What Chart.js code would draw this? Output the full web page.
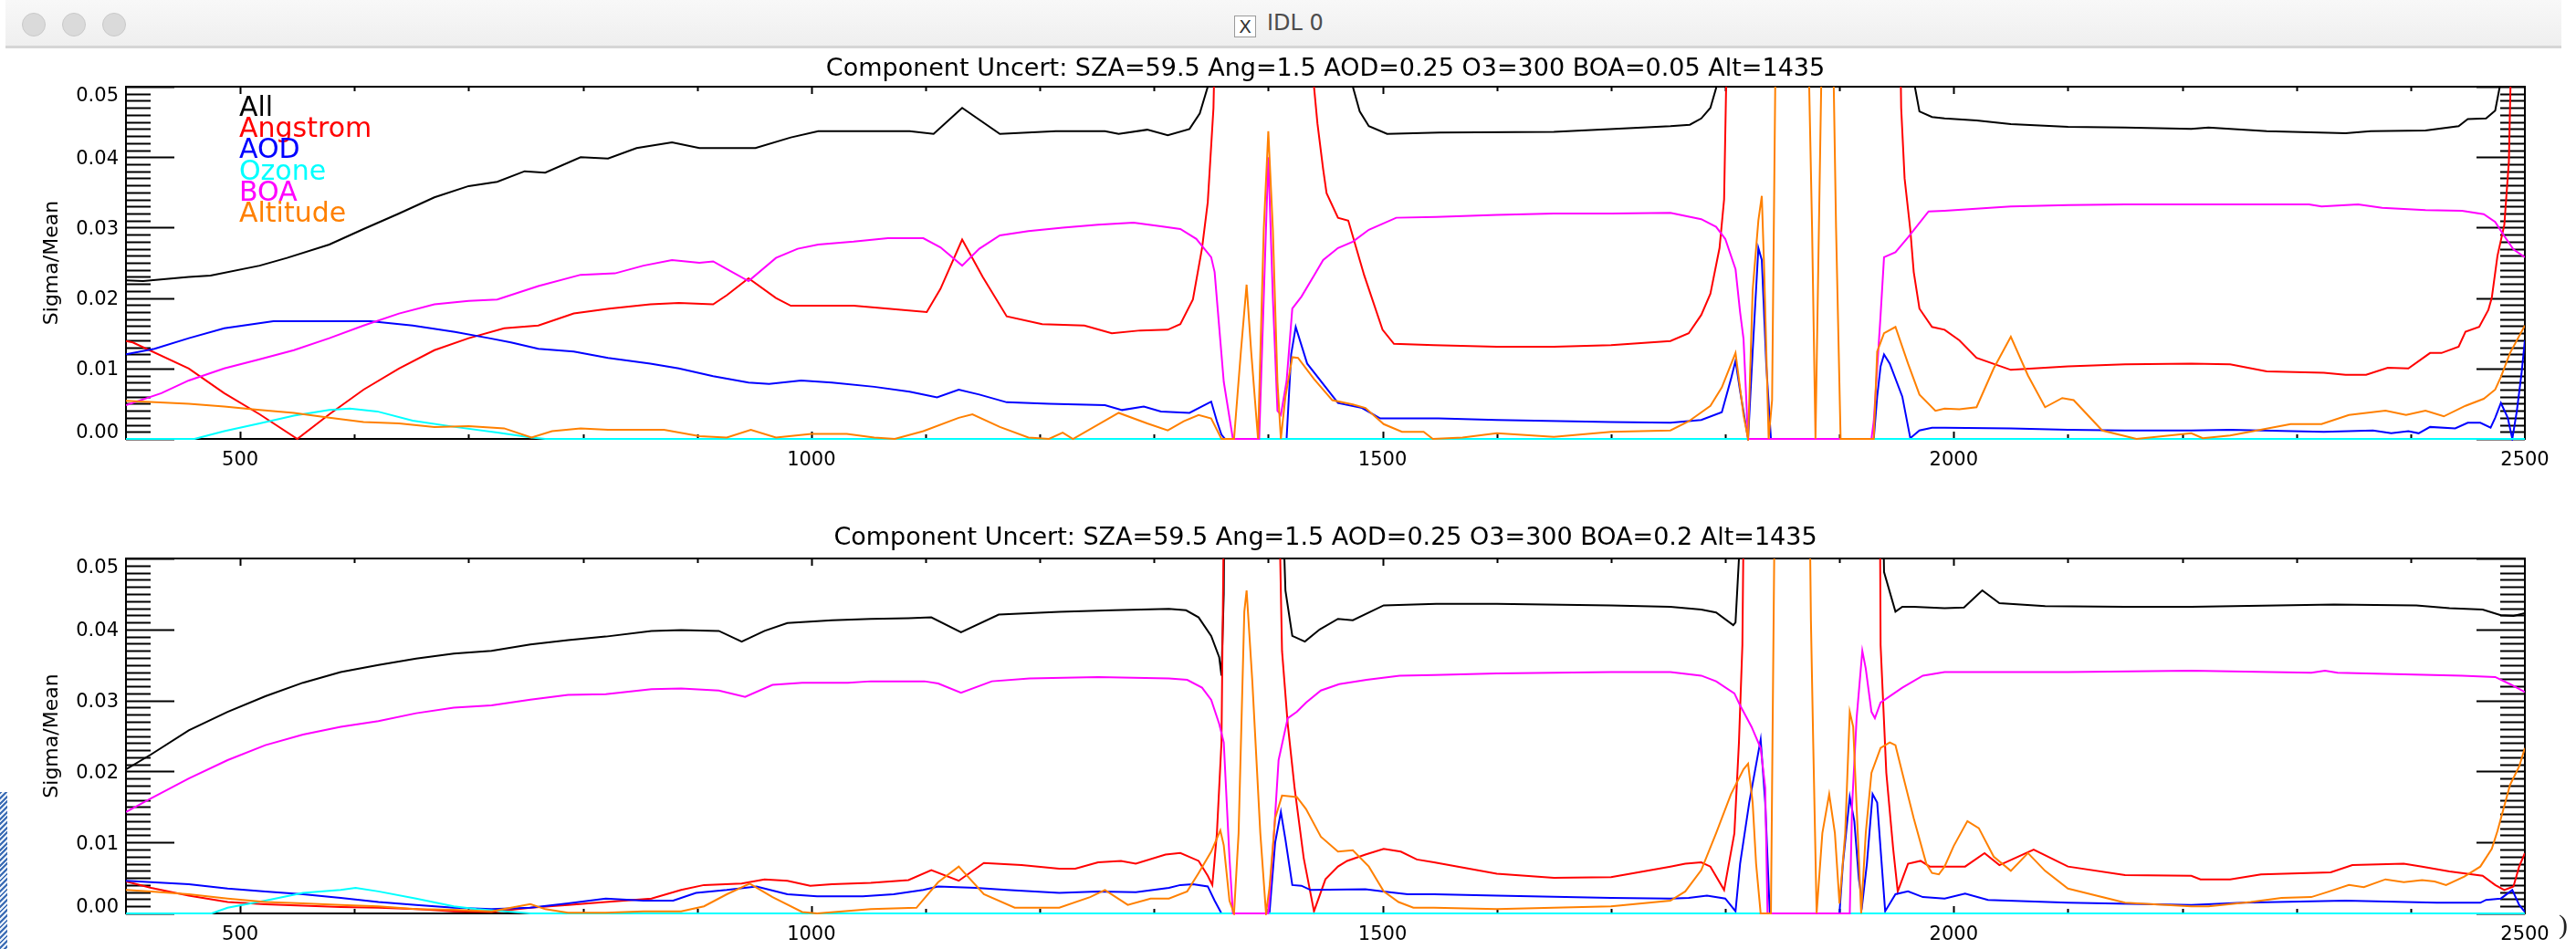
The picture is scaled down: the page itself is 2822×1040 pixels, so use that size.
<!DOCTYPE html>
<html>
<head>
<meta charset="utf-8">
<script src="https://cdn.jsdelivr.net/npm/chart.js@4.4.0/dist/chart.umd.min.js"></script>
<style>
  html, body { margin: 0; padding: 0; background: #fff; width: 2822px; height: 1040px; overflow: hidden; position: relative; font-family: "DejaVu Sans", sans-serif; }
  #bar { position: absolute; left: 6px; top: 0; width: 2800px; height: 50px; background: linear-gradient(#f8f8f8, #efefef); border-bottom: 3px solid #d6d6d6; }
  .dot { position: absolute; top: 14px; width: 24px; height: 24px; border-radius: 50%; background: #dadada; border: 1px solid #c9c9c9; }
  #wtitle { position: absolute; left: 1346px; top: 11px; font-size: 24px; color: #4d4d4d; white-space: nowrap; }
  #wtitle .xi { display: inline-block; width: 22px; height: 22px; border: 1px solid #9a9a9a; background: #fff; font-size: 20px; line-height: 22px; text-align: center; margin-right: 12px; vertical-align: -3px; color: #333; }
  canvas { position: absolute; left: 0; }
  #cTop { top: 52px; }
  #cBot { top: 560px; }
  #paren { position: absolute; left: 2803px; top: 996px; font: 30px "Liberation Serif", serif; color: #222; }
  #stripe { position: absolute; left: 0; top: 868px; width: 8px; height: 172px; background: repeating-linear-gradient(135deg, #3f6fb6 0 2px, #e6eef8 2px 4px); }
</style>
</head>
<body>
<div id="bar">
  <span class="dot" style="left:18px"></span>
  <span class="dot" style="left:62px"></span>
  <span class="dot" style="left:106px"></span>
  <div id="wtitle"><span class="xi">X</span>IDL 0</div>
</div>
<canvas id="cTop" width="2904" height="500"></canvas>
<canvas id="cBot" width="2904" height="480"></canvas>
<div id="paren">)</div>
<div id="stripe"></div>
<script>
const seriesNames = ['All', 'Angstrom', 'AOD', 'Ozone', 'BOA', 'Altitude'];
const seriesColors = ['#000000', '#ff0000', '#0000ff', '#00ffff', '#ff00ff', '#ff8000'];
const xTickLabels = [500, 1000, 1500, 2000, 2500];
const yTickLabels = [0, 0.01, 0.02, 0.03, 0.04, 0.05];
const topTitle = 'Component Uncert: SZA=59.5 Ang=1.5 AOD=0.25 O3=300 BOA=0.05 Alt=1435';
const botTitle = 'Component Uncert: SZA=59.5 Ang=1.5 AOD=0.25 O3=300 BOA=0.2 Alt=1435';
// values above 0.05 run off the top of the plot (clipped, as in the original)

// ---- upper panel (BOA=0.05): [wavelength, sigma/mean]
const topAll = [[400,0.0225],[415,0.0224],[455,0.0230],[474,0.0232],[517,0.0246],[541,0.0257],[578,0.0276],[608,0.0298],[639,0.0320],[670,0.0343],[700,0.0359],[725,0.0365],[749,0.0380],[767,0.0378],[798,0.0400],[822,0.0398],[847,0.0413],[878,0.0421],[902,0.0413],[951,0.0413],[982,0.0428],[1006,0.0437],[1086,0.0437],[1107,0.0433],[1132,0.0470],[1165,0.0433],[1214,0.0437],[1257,0.0437],[1269,0.0433],[1294,0.0439],[1312,0.0431],[1331,0.0440],[1340,0.0462],[1347,0.0500],[1352,0.0700],[1468,0.0700],[1474,0.0500],[1480,0.0465],[1488,0.0444],[1504,0.0433],[1550,0.0435],[1650,0.0436],[1752,0.0444],[1769,0.0446],[1779,0.0455],[1787,0.0470],[1792,0.0498],[1796,0.0700],[1962,0.0700],[1966,0.0500],[1970,0.0465],[1981,0.0457],[1992,0.0455],[2020,0.0452],[2050,0.0447],[2100,0.0443],[2150,0.0442],[2208,0.0440],[2223,0.0442],[2274,0.0437],[2343,0.0434],[2365,0.0437],[2413,0.0438],[2442,0.0444],[2450,0.0454],[2466,0.0455],[2474,0.0466],[2478,0.0500],[2482,0.0700],[2500,0.0700]];
const topAngstrom = [[400,0.0139],[406,0.0137],[455,0.0100],[486,0.0065],[517,0.0035],[550,0.0000],[578,0.0035],[608,0.0070],[639,0.0100],[670,0.0126],[700,0.0143],[731,0.0157],[761,0.0161],[792,0.0178],[823,0.0185],[859,0.0191],[884,0.0193],[914,0.0191],[926,0.0204],[945,0.0228],[969,0.0200],[982,0.0189],[1037,0.0189],[1067,0.0185],[1101,0.0180],[1113,0.0213],[1132,0.0283],[1150,0.0230],[1171,0.0174],[1202,0.0163],[1239,0.0161],[1263,0.0150],[1288,0.0154],[1312,0.0155],[1323,0.0163],[1334,0.0198],[1342,0.0271],[1347,0.0336],[1352,0.0470],[1355,0.0700],[1436,0.0700],[1440,0.0500],[1443,0.0448],[1448,0.0383],[1451,0.0349],[1461,0.0314],[1470,0.0310],[1484,0.0232],[1500,0.0155],[1510,0.0135],[1545,0.0133],[1600,0.0131],[1650,0.0131],[1700,0.0133],[1752,0.0139],[1768,0.0150],[1779,0.0176],[1787,0.0206],[1795,0.0271],[1799,0.0340],[1803,0.0700],[1952,0.0700],[1954,0.0470],[1957,0.0370],[1962,0.0297],[1965,0.0237],[1970,0.0185],[1981,0.0159],[1992,0.0155],[2005,0.0140],[2020,0.0115],[2050,0.0098],[2100,0.0103],[2150,0.0106],[2208,0.0107],[2242,0.0106],[2274,0.0096],[2324,0.0094],[2343,0.0091],[2361,0.0091],[2380,0.0101],[2398,0.0100],[2417,0.0122],[2427,0.0122],[2442,0.0131],[2448,0.0152],[2460,0.0159],[2468,0.0183],[2471,0.0200],[2476,0.0260],[2482,0.0304],[2486,0.0394],[2490,0.0700],[2500,0.0700]];
const topAod = [[400,0.0120],[425,0.0128],[455,0.0143],[486,0.0157],[529,0.0167],[578,0.0167],[614,0.0167],[651,0.0161],[688,0.0152],[718,0.0143],[737,0.0137],[761,0.0128],[792,0.0124],[822,0.0115],[859,0.0107],[884,0.0100],[914,0.0089],[945,0.0080],[963,0.0078],[991,0.0083],[1018,0.0080],[1055,0.0074],[1086,0.0067],[1110,0.0059],[1129,0.0070],[1147,0.0063],[1171,0.0052],[1208,0.0050],[1257,0.0048],[1272,0.0041],[1291,0.0046],[1306,0.0039],[1331,0.0037],[1350,0.0053],[1355,0.0025],[1359,0.0006],[1362,0],[1416,0],[1420,0.0120],[1424,0.0159],[1434,0.0107],[1461,0.0051],[1482,0.0044],[1498,0.0029],[1549,0.0029],[1600,0.0027],[1700,0.0024],[1752,0.0023],[1779,0.0027],[1797,0.0038],[1805,0.0085],[1809,0.0111],[1813,0.0068],[1820,0],[1824,0.0124],[1829,0.0271],[1832,0.0254],[1836,0.0103],[1840,0],[1930,0],[1933,0.0060],[1936,0.0103],[1939,0.0120],[1944,0.0107],[1955,0.0060],[1962,0.0001],[1970,0.0012],[1981,0.0016],[1992,0.0016],[2050,0.0015],[2100,0.0013],[2150,0.0012],[2208,0.0012],[2242,0.0013],[2324,0.0010],[2367,0.0012],[2383,0.0008],[2398,0.0011],[2407,0.0008],[2417,0.0017],[2439,0.0015],[2450,0.0023],[2461,0.0023],[2470,0.0016],[2474,0.0030],[2479,0.0051],[2485,0.0030],[2489,0],[2493,0.0040],[2497,0.0092],[2500,0.0140]];
const topOzone = [[400,0],[460,0],[486,0.0011],[517,0.0022],[547,0.0033],[578,0.0041],[596,0.0043],[620,0.0039],[651,0.0026],[688,0.0017],[725,0.0009],[755,0.0002],[767,0],[2500,0]];
const topBoa = [[400,0.0048],[431,0.0065],[455,0.0083],[486,0.0100],[517,0.0113],[547,0.0126],[578,0.0143],[608,0.0161],[639,0.0178],[670,0.0191],[700,0.0196],[725,0.0198],[761,0.0217],[798,0.0233],[828,0.0235],[853,0.0246],[878,0.0254],[902,0.0250],[914,0.0252],[926,0.0241],[945,0.0224],[969,0.0257],[988,0.0270],[1006,0.0276],[1037,0.0280],[1067,0.0285],[1098,0.0285],[1113,0.0272],[1132,0.0246],[1147,0.0270],[1165,0.0289],[1190,0.0295],[1220,0.0300],[1251,0.0304],[1282,0.0307],[1306,0.0302],[1323,0.0298],[1337,0.0284],[1350,0.0258],[1353,0.0237],[1361,0.0081],[1369,0],[1392,0],[1396,0.0200],[1400,0.0400],[1404,0.0200],[1408,0.0040],[1411,0.0034],[1416,0.0082],[1421,0.0185],[1429,0.0202],[1440,0.0232],[1448,0.0254],[1461,0.0271],[1474,0.0280],[1488,0.0297],[1512,0.0314],[1547,0.0315],[1600,0.0318],[1650,0.0320],[1700,0.0320],[1752,0.0321],[1779,0.0312],[1792,0.0301],[1800,0.0284],[1809,0.0241],[1813,0.0180],[1816,0.0142],[1820,0],[1928,0],[1930,0.0025],[1936,0.0176],[1939,0.0258],[1949,0.0265],[1960,0.0286],[1978,0.0323],[1992,0.0324],[2050,0.0330],[2100,0.0332],[2150,0.0333],[2208,0.0333],[2311,0.0333],[2322,0.0330],[2354,0.0333],[2375,0.0328],[2413,0.0325],[2445,0.0324],[2464,0.0319],[2474,0.0308],[2482,0.0288],[2490,0.0269],[2500,0.0258]];
const topAltitude = [[400,0.0054],[455,0.0050],[486,0.0046],[517,0.0041],[547,0.0037],[578,0.0030],[608,0.0024],[639,0.0022],[670,0.0017],[700,0.0018],[731,0.0015],[755,0.0002],[773,0.0011],[798,0.0015],[822,0.0013],[871,0.0013],[902,0.0004],[926,0.0002],[947,0.0013],[969,0.0002],[1000,0.0007],[1031,0.0007],[1055,0.0002],[1073,0],[1098,0.0011],[1129,0.0030],[1141,0.0035],[1165,0.0017],[1190,0.0002],[1208,0],[1220,0.0009],[1229,0],[1269,0.0037],[1294,0.0022],[1312,0.0012],[1326,0.0025],[1339,0.0034],[1350,0.0029],[1359,0],[1370,0],[1376,0.0124],[1381,0.0219],[1385,0.0124],[1391,0],[1396,0.0297],[1400,0.0437],[1404,0.0297],[1408,0.0081],[1411,0],[1415,0.0060],[1421,0.0116],[1426,0.0115],[1440,0.0085],[1456,0.0055],[1474,0.0049],[1485,0.0044],[1501,0.0021],[1517,0.0010],[1536,0.0010],[1544,0],[1570,0.0002],[1600,0.0008],[1650,0.0003],[1700,0.0010],[1752,0.0012],[1768,0.0025],[1787,0.0047],[1797,0.0073],[1809,0.0122],[1816,0.0034],[1820,0],[1824,0.0211],[1829,0.0310],[1832,0.0345],[1834,0.0245],[1838,0],[1841,0.0055],[1845,0.0700],[1871,0.0700],[1876,0.0300],[1879,0],[1882,0.0300],[1886,0.0700],[1893,0.0700],[1897,0.0300],[1901,0],[1930,0],[1933,0.0124],[1939,0.0150],[1949,0.0159],[1960,0.0107],[1970,0.0063],[1984,0.0040],[1992,0.0043],[2005,0.0042],[2020,0.0045],[2035,0.0100],[2050,0.0145],[2065,0.0090],[2080,0.0045],[2095,0.0058],[2105,0.0055],[2130,0.0012],[2160,0],[2208,0.0008],[2218,0.0001],[2242,0.0005],[2295,0.0021],[2322,0.0021],[2346,0.0034],[2378,0.0040],[2396,0.0034],[2413,0.0040],[2429,0.0032],[2448,0.0047],[2464,0.0057],[2474,0.0070],[2479,0.0088],[2487,0.0122],[2500,0.0161]];

// ---- lower panel (BOA=0.2)
const botAll = [[400,0.0203],[422,0.0224],[455,0.0258],[489,0.0284],[522,0.0306],[555,0.0325],[588,0.0340],[621,0.0350],[654,0.0359],[687,0.0366],[720,0.0370],[754,0.0379],[787,0.0385],[820,0.0390],[860,0.0398],[886,0.0399],[919,0.0398],[939,0.0383],[959,0.0398],[979,0.0409],[1018,0.0413],[1052,0.0415],[1085,0.0416],[1105,0.0417],[1131,0.0396],[1164,0.0421],[1217,0.0425],[1264,0.0427],[1313,0.0429],[1328,0.0427],[1339,0.0417],[1350,0.0391],[1357,0.0361],[1359,0.0335],[1361,0.0450],[1362,0.0700],[1410,0.0700],[1415,0.0455],[1421,0.0391],[1432,0.0383],[1445,0.0400],[1461,0.0415],[1474,0.0413],[1501,0.0434],[1547,0.0436],[1600,0.0436],[1700,0.0434],[1752,0.0432],[1779,0.0428],[1792,0.0424],[1807,0.0406],[1809,0.0410],[1812,0.0500],[1814,0.0700],[1937,0.0700],[1939,0.0481],[1949,0.0425],[1955,0.0432],[1965,0.0432],[1992,0.0430],[2009,0.0431],[2025,0.0455],[2040,0.0437],[2080,0.0433],[2150,0.0432],[2208,0.0432],[2333,0.0435],[2405,0.0434],[2434,0.0430],[2463,0.0428],[2479,0.0420],[2490,0.0419],[2500,0.0423]];
const botAngstrom = [[400,0.0045],[422,0.0036],[455,0.0025],[489,0.0016],[522,0.0013],[555,0.0011],[588,0.0009],[621,0.0008],[654,0.0006],[687,0.0003],[720,0.0002],[754,0.0008],[787,0.0012],[820,0.0016],[860,0.0021],[886,0.0033],[906,0.0040],[939,0.0042],[959,0.0048],[979,0.0046],[999,0.0039],[1018,0.0041],[1052,0.0043],[1085,0.0047],[1105,0.0061],[1129,0.0046],[1151,0.0071],[1184,0.0068],[1217,0.0063],[1231,0.0063],[1251,0.0072],[1271,0.0074],[1284,0.0070],[1310,0.0083],[1323,0.0085],[1339,0.0074],[1347,0.0053],[1351,0.0040],[1355,0.0113],[1359,0.0241],[1362,0.0700],[1408,0.0700],[1412,0.0370],[1417,0.0267],[1423,0.0177],[1431,0.0078],[1440,0.0003],[1450,0.0048],[1461,0.0066],[1469,0.0074],[1485,0.0083],[1501,0.0091],[1516,0.0087],[1530,0.0076],[1545,0.0072],[1600,0.0056],[1650,0.0050],[1700,0.0051],[1752,0.0066],[1765,0.0070],[1779,0.0072],[1787,0.0066],[1799,0.0033],[1808,0.0113],[1812,0.0241],[1815,0.0378],[1817,0.0700],[1935,0.0700],[1936,0.0378],[1941,0.0198],[1947,0.0091],[1951,0.0031],[1960,0.0070],[1971,0.0074],[1979,0.0066],[1992,0.0066],[2010,0.0066],[2027,0.0085],[2040,0.0068],[2070,0.0090],[2100,0.0066],[2150,0.0054],[2208,0.0053],[2216,0.0048],[2242,0.0048],[2269,0.0055],[2330,0.0058],[2349,0.0068],[2394,0.0070],[2410,0.0066],[2434,0.0059],[2463,0.0053],[2474,0.0040],[2482,0.0033],[2490,0.0038],[2495,0.0066],[2500,0.0085]];
const botAod = [[400,0.0046],[422,0.0044],[455,0.0041],[489,0.0035],[522,0.0031],[555,0.0027],[588,0.0022],[621,0.0016],[654,0.0012],[687,0.0008],[720,0.0006],[754,0.0008],[787,0.0014],[820,0.0021],[853,0.0018],[879,0.0018],[899,0.0029],[926,0.0033],[952,0.0038],[979,0.0027],[1005,0.0024],[1045,0.0024],[1072,0.0027],[1098,0.0033],[1111,0.0038],[1144,0.0036],[1171,0.0033],[1217,0.0029],[1251,0.0031],[1284,0.0030],[1313,0.0036],[1323,0.0040],[1334,0.0041],[1347,0.0038],[1353,0.0018],[1359,0],[1401,0],[1406,0.0100],[1411,0.0143],[1415,0.0104],[1421,0.0040],[1429,0.0039],[1437,0.0033],[1485,0.0034],[1501,0.0031],[1522,0.0027],[1545,0.0027],[1600,0.0025],[1700,0.0022],[1752,0.0021],[1768,0.0022],[1784,0.0025],[1800,0.0021],[1809,0.0003],[1813,0.0070],[1821,0.0156],[1831,0.0245],[1835,0.0156],[1839,0],[1900,0],[1903,0.0070],[1909,0.0164],[1913,0.0130],[1917,0.0048],[1920,0.0014],[1924,0.0070],[1929,0.0168],[1933,0.0156],[1940,0.0003],[1949,0.0027],[1960,0.0031],[1973,0.0023],[1992,0.0021],[2010,0.0028],[2030,0.0019],[2100,0.0015],[2208,0.0012],[2253,0.0015],[2343,0.0018],[2423,0.0015],[2461,0.0015],[2466,0.0019],[2479,0.0021],[2489,0.0033],[2495,0.0012],[2500,0.0002]];
const botOzone = [[400,0],[475,0],[489,0.0008],[522,0.0018],[555,0.0029],[588,0.0033],[601,0.0036],[621,0.0031],[654,0.0021],[687,0.0010],[707,0.0006],[754,0],[2500,0]];
const botBoa = [[400,0.0143],[422,0.0162],[455,0.0190],[489,0.0216],[522,0.0237],[555,0.0252],[588,0.0263],[621,0.0271],[654,0.0282],[687,0.0290],[720,0.0293],[754,0.0301],[787,0.0308],[820,0.0309],[860,0.0316],[886,0.0317],[919,0.0314],[942,0.0305],[966,0.0322],[992,0.0325],[1032,0.0325],[1052,0.0327],[1099,0.0327],[1111,0.0324],[1131,0.0311],[1158,0.0327],[1191,0.0331],[1251,0.0333],[1313,0.0331],[1329,0.0329],[1342,0.0318],[1350,0.0301],[1357,0.0267],[1361,0.0241],[1366,0.0078],[1369,0],[1400,0],[1405,0.0113],[1409,0.0216],[1417,0.0275],[1425,0.0284],[1433,0.0297],[1446,0.0314],[1462,0.0323],[1486,0.0329],[1515,0.0335],[1545,0.0336],[1600,0.0338],[1700,0.0340],[1752,0.0340],[1779,0.0335],[1792,0.0327],[1808,0.0310],[1813,0.0293],[1823,0.0263],[1831,0.0233],[1835,0.0177],[1837,0],[1909,0],[1911,0.0150],[1915,0.0275],[1920,0.0370],[1923,0.0345],[1928,0.0284],[1931,0.0275],[1936,0.0297],[1955,0.0318],[1973,0.0335],[1992,0.0340],[2100,0.0340],[2208,0.0342],[2313,0.0339],[2325,0.0342],[2336,0.0339],[2445,0.0335],[2474,0.0333],[2487,0.0323],[2500,0.0312]];
const botAltitude = [[400,0.0033],[422,0.0031],[455,0.0027],[489,0.0021],[522,0.0016],[555,0.0014],[588,0.0012],[621,0.0010],[654,0.0006],[687,0.0005],[720,0.0003],[754,0.0013],[767,0.0006],[787,0.0001],[820,0.0001],[853,0.0003],[886,0.0003],[906,0.0010],[926,0.0027],[946,0.0042],[966,0.0023],[992,0.0002],[1005,0],[1052,0.0006],[1092,0.0008],[1111,0.0044],[1129,0.0066],[1151,0.0027],[1178,0.0008],[1217,0.0008],[1244,0.0023],[1257,0.0033],[1277,0.0012],[1297,0.0021],[1313,0.0021],[1329,0.0031],[1339,0.0057],[1350,0.0087],[1358,0.0117],[1361,0.0096],[1366,0.0018],[1370,0],[1374,0.0113],[1379,0.0425],[1381,0.0455],[1386,0.0327],[1393,0.0113],[1398,0],[1401,0.0036],[1406,0.0134],[1412,0.0166],[1425,0.0164],[1433,0.0147],[1446,0.0108],[1461,0.0087],[1474,0.0089],[1488,0.0066],[1501,0.0031],[1514,0.0016],[1527,0.0008],[1545,0.0008],[1600,0.0006],[1650,0.0008],[1700,0.0010],[1752,0.0018],[1765,0.0031],[1779,0.0061],[1792,0.0113],[1805,0.0168],[1816,0.0203],[1820,0.0211],[1824,0.0156],[1827,0.0070],[1831,0],[1840,0],[1841,0.0177],[1844,0.0700],[1873,0.0700],[1875,0.0413],[1877,0.0241],[1880,0],[1885,0.0113],[1891,0.0168],[1896,0.0113],[1900,0.0014],[1905,0.0113],[1909,0.0284],[1912,0.0263],[1916,0.0113],[1919,0],[1923,0.0113],[1928,0.0198],[1936,0.0233],[1944,0.0241],[1949,0.0237],[1955,0.0198],[1965,0.0134],[1976,0.0070],[1981,0.0057],[1987,0.0055],[1992,0.0066],[2000,0.0095],[2012,0.0130],[2022,0.0120],[2035,0.0080],[2050,0.0060],[2065,0.0085],[2080,0.0060],[2100,0.0035],[2150,0.0015],[2208,0.0010],[2223,0.0010],[2260,0.0016],[2287,0.0022],[2313,0.0023],[2327,0.0030],[2346,0.0040],[2359,0.0037],[2378,0.0048],[2394,0.0044],[2410,0.0047],[2421,0.0045],[2431,0.0040],[2447,0.0052],[2461,0.0066],[2471,0.0091],[2476,0.0116],[2487,0.0181],[2495,0.0207],[2500,0.0233]];

const FONT = '"DejaVu Sans", sans-serif';

// IDL-style box with inward ticks on all four sides
const idlAxes = {
  id: 'idlAxes',
  beforeDatasetsDraw(chart) {
    const {ctx, chartArea: a, scales: {x, y}} = chart;
    ctx.save();
    ctx.strokeStyle = '#000';
    ctx.lineWidth = 2;
    ctx.beginPath();
    for (let i = 0; i <= 50; i++) {
      const py = Math.round(y.getPixelForValue(i / 1000)) + 0.5;
      const len = i % 10 === 0 ? 53 : 27;
      ctx.moveTo(a.left, py); ctx.lineTo(a.left + len, py);
      ctx.moveTo(a.right, py); ctx.lineTo(a.right - len, py);
    }
    for (let v = 500; v < 2500; v += 100) {
      const px = Math.round(x.getPixelForValue(v)) + 0.5;
      const len = v % 500 === 0 ? 8 : 5;
      ctx.moveTo(px, a.bottom); ctx.lineTo(px, a.bottom - len);
      ctx.moveTo(px, a.top); ctx.lineTo(px, a.top + len);
    }
    ctx.stroke();
    ctx.strokeRect(a.left, a.top, a.right - a.left, a.bottom - a.top);
    ctx.restore();
  }
};

// the xyouts-style coloured legend in the upper panel
const textLegend = {
  id: 'textLegend',
  afterDatasetsDraw(chart) {
    const {ctx, chartArea: a} = chart;
    ctx.save();
    ctx.font = '30px ' + FONT;
    ctx.textBaseline = 'alphabetic';
    seriesNames.forEach((name, i) => {
      ctx.fillStyle = seriesColors[i];
      ctx.fillText(name, a.left + 124, a.top + 32 + i * 23.2);
    });
    ctx.restore();
  }
};

function buildPanel(canvasId, title, series, cfg) {
  return new Chart(document.getElementById(canvasId), {
    type: 'line',
    data: {
      datasets: series.map((pts, i) => ({
        label: seriesNames[i],
        data: pts.map(([x, y]) => ({x, y})),
        borderColor: seriesColors[i],
        borderWidth: 2,
        pointRadius: 0,
        tension: 0,
        fill: false,
        clip: {left: 0, top: 0, right: 0, bottom: 2},
        order: series.length - i
      }))
    },
    options: {
      responsive: false,
      animation: false,
      events: [],
      layout: {padding: {left: 0, right: 138, top: 0, bottom: 0}},
      plugins: {
        legend: {display: false},
        tooltip: {enabled: false},
        title: {
          display: true, text: title, color: '#000', fullSize: false,
          font: {family: FONT, size: 27, weight: 'normal', lineHeight: 1.15},
          padding: {top: cfg.titleTop, bottom: cfg.titleBottom}
        }
      },
      scales: {
        x: {
          type: 'linear', min: 400, max: 2500,
          grid: {display: false, drawTicks: false},
          border: {display: false},
          afterBuildTicks: s => { s.ticks = xTickLabels.map(v => ({value: v})); },
          afterFit: s => { s.height = cfg.xAxisHeight; },
          ticks: {color: '#000', font: {family: FONT, size: 21}, padding: 11, maxRotation: 0, autoSkip: false, callback: v => String(v)}
        },
        y: {
          type: 'linear', min: 0, max: 0.05,
          grid: {display: false, drawTicks: false},
          border: {display: false},
          afterBuildTicks: s => { s.ticks = yTickLabels.map(v => ({value: v})); },
          afterFit: s => { s.width = 138; },
          ticks: {
            color: '#000', font: {family: FONT, size: 21, lineHeight: 0.8}, padding: 8, labelOffset: 2,
            callback: v => {
              const t = v.toFixed(2);
              if (v === 0) return [t, ''];
              if (Math.abs(v - 0.05) < 1e-9) return ['', t];
              return t;
            }
          },
          title: {display: true, text: 'Sigma/Mean', color: '#000', font: {family: FONT, size: 22}, padding: {top: 44, bottom: 0}}
        }
      }
    },
    plugins: cfg.legend ? [idlAxes, textLegend] : [idlAxes]
  });
}

buildPanel('cTop', topTitle,
  [topAll, topAngstrom, topAod, topOzone, topBoa, topAltitude],
  {titleTop: 8, titleBottom: 4, xAxisHeight: 71, legend: true});
buildPanel('cBot', botTitle,
  [botAll, botAngstrom, botAod, botOzone, botBoa, botAltitude],
  {titleTop: 14, titleBottom: 7, xAxisHeight: 39, legend: false});
</script>
</body>
</html>
